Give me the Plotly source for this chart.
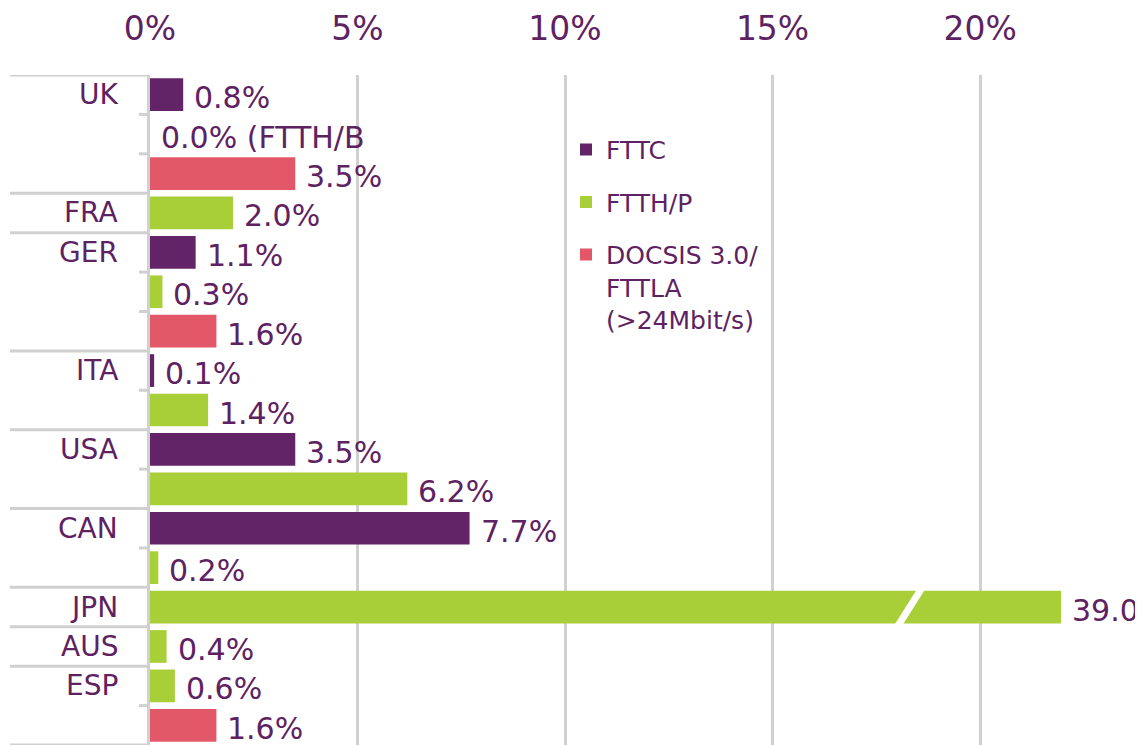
import plotly.graph_objects as go

# ---- data ----
countries = ["UK", "UK", "UK", "FRA", "GER", "GER", "GER", "ITA", "ITA",
             "USA", "USA", "CAN", "CAN", "JPN", "AUS", "ESP", "ESP"]
techs = ["FTTC", "FTTH/P", "DOCSIS", "FTTH/P", "FTTC", "FTTH/P", "DOCSIS",
         "FTTC", "FTTH/P", "FTTC", "FTTH/P", "FTTC", "FTTH/P", "FTTH/P",
         "FTTH/P", "FTTH/P", "DOCSIS"]
values = [0.8, 0.0, 3.5, 2.0, 1.1, 0.3, 1.6, 0.1, 1.4, 3.5, 6.2, 7.7, 0.2,
          39.0, 0.4, 0.6, 1.6]
labels = ["0.8%", "0.0% (FTTH/B", "3.5%", "2.0%", "1.1%", "0.3%", "1.6%",
          "0.1%", "1.4%", "3.5%", "6.2%", "7.7%", "0.2%", "39.0", "0.4%",
          "0.6%", "1.6%"]
tech_keys = ["FTTC", "FTTH/P", "DOCSIS"]
legend_names = ["FTTC", "FTTH/P", "DOCSIS 3.0/<br>FTTLA<br>(>24Mbit/s)"]
tech_colors = ["#622466", "#A8CE38", "#E35868"]
x_tick_vals = [0, 5, 10, 15, 20]
x_tick_text = ["0%", "5%", "10%", "15%", "20%"]

# ---- style ----
TEXT = "#5E2262"
GRID = "#D0D0D0"
FONT = "DejaVu Sans, Liberation Sans, Arial, sans-serif"
OFF = 8                      # page body margin
W, H = 1143 - OFF, 746 - OFF
PLOT_L, PLOT_R, PLOT_T, PLOT_B = 150, 1061, 72, 745   # page pixels
ML, MR, MT = PLOT_L - OFF, W - (PLOT_R - OFF), PLOT_T - OFF
MB = H - (PLOT_B - OFF)
X_MAX = 21.95
PW = PLOT_R - PLOT_L
PH = PLOT_B - PLOT_T


def px_to_paper(px):
    return (px - PLOT_L) / PW


def py_to_paper(py):
    return 1 - (py - PLOT_T) / PH


n = len(values)
rows = list(range(n))

fig = go.Figure()
for key, lname, color in zip(tech_keys, legend_names, tech_colors):
    idx = [i for i in rows if techs[i] == key]
    fig.add_trace(go.Bar(
        orientation="h",
        x=[values[i] for i in idx],
        y=idx,
        width=0.83,
        marker=dict(color=color, line=dict(width=0)),
        name=lname,
        legendgroup=key,
        hoverinfo="skip",
    ))

annotations = []
# value labels
for i in rows:
    annotations.append(dict(
        x=min(values[i], X_MAX), y=i, xref="x", yref="y",
        text=labels[i], showarrow=False, xanchor="left", yanchor="middle",
        xshift=9, yshift=-3,
        font=dict(family=FONT, size=30, color=TEXT),
    ))

# group labels and separators
shapes = []
group_starts = [i for i in rows if i == 0 or countries[i] != countries[i - 1]]
for i in group_starts:
    annotations.append(dict(
        x=px_to_paper(120), y=i, xref="paper", yref="y",
        text=countries[i], showarrow=False, xanchor="right", yanchor="middle",
        font=dict(family=FONT, size=28, color=TEXT),
    ))

for b in range(n + 1):
    is_group = b == 0 or b == n or countries[b] != countries[b - 1]
    x0 = px_to_paper(10) if is_group else px_to_paper(139)
    shapes.append(dict(
        type="line", xref="paper", yref="y",
        x0=x0, x1=px_to_paper(148), y0=b - 0.5, y1=b - 0.5,
        line=dict(color=GRID, width=3),
    ))

# axis break on bars that exceed the visible range
for i in rows:
    if values[i] > X_MAX:
        bx = X_MAX * 0.834
        shapes.append(dict(
            type="line", xref="x", yref="y",
            x0=bx - 0.3, x1=bx + 0.3, y0=i + 0.5, y1=i - 0.5,
            line=dict(color="white", width=7),
        ))

fig.update_layout(
    width=W, height=H,
    margin=dict(l=ML, r=MR, t=MT, b=MB),
    paper_bgcolor="white", plot_bgcolor="white",
    barmode="overlay",
    font=dict(family=FONT, color=TEXT),
    annotations=annotations,
    shapes=shapes,
    showlegend=True,
    legend=dict(
        x=px_to_paper(566), y=py_to_paper(124),
        xanchor="left", yanchor="top",
        font=dict(family=FONT, size=25, color=TEXT),
        bgcolor="rgba(0,0,0,0)",
        tracegroupgap=17,
        valign="top",
    ),
    xaxis=dict(
        side="top", range=[0, X_MAX],
        tickmode="array", tickvals=x_tick_vals, ticktext=x_tick_text,
        tickfont=dict(family=FONT, size=33, color=TEXT),
        showgrid=True, gridcolor=GRID, gridwidth=3,
        zeroline=False, showline=False, ticks="",
        ticklabelstandoff=27,
    ),
    yaxis=dict(
        range=[n - 0.5, -0.5],
        showticklabels=False, showgrid=False, zeroline=False,
        showline=True, linecolor=GRID, linewidth=3, ticks="",
    ),
)

fig.write_html("out.html")
